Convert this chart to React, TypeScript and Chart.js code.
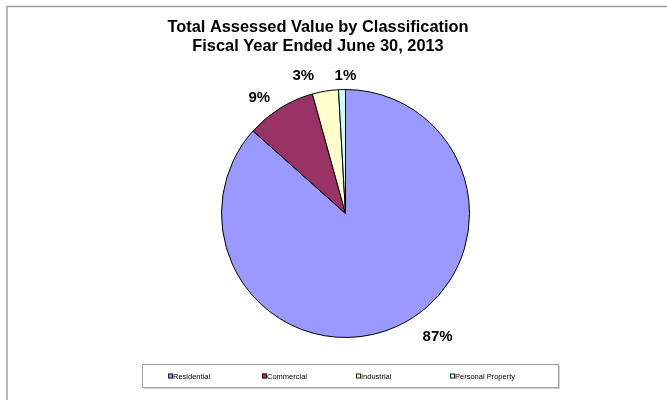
import React, { useEffect, useRef } from 'react';
import { Chart, registerables } from 'chart.js';

Chart.register(...registerables);

const categories = ['Residential', 'Commercial', 'Industrial', 'Personal Property'];
const shares = [86.6, 9.1, 3.4, 0.9];
const colors = ['#9999FF', '#993366', '#FFFFCC', '#CCFFFF'];
const titleLines = ['Total Assessed Value by Classification', 'Fiscal Year Ended June 30, 2013'];

// label placement tweaks (style only): angular shift in degrees, distance from centre in px
const labelShift = [-12.6, -4.9, -7.7, 1.6];
const labelDistance = [154, 144, 144, 138];

const decorPlugin = {
  id: 'decor',
  beforeDraw(chart: any) {
    const ctx = chart.ctx;
    ctx.save();
    ctx.fillStyle = '#ffffff';
    ctx.fillRect(0, 0, chart.width, chart.height);
    // outer frame
    ctx.strokeStyle = '#a0a0a0';
    ctx.lineWidth = 1.5;
    ctx.beginPath();
    ctx.moveTo(7, chart.height);
    ctx.lineTo(7, 6.5);
    ctx.lineTo(chart.width, 6.5);
    ctx.stroke();
    // title
    ctx.fillStyle = '#000000';
    ctx.font = 'bold 16.4px "Liberation Sans", Arial, sans-serif';
    ctx.textAlign = 'center';
    ctx.textBaseline = 'alphabetic';
    titleLines.forEach((t, i) => ctx.fillText(t, 318, 31.5 + i * 19));
    ctx.restore();
  },
  afterDraw(chart: any) {
    const ctx = chart.ctx;
    ctx.save();
    // legend box
    const bx = 142.5, by = 364.5, bw = 416, bh = 23;
    ctx.strokeStyle = '#d0d0d0';
    ctx.lineWidth = 1;
    ctx.beginPath();
    ctx.moveTo(bx + bw + 1, by + 1);
    ctx.lineTo(bx + bw + 1, by + bh + 1);
    ctx.lineTo(bx + 1, by + bh + 1);
    ctx.stroke();
    ctx.strokeStyle = '#a0a0a0';
    ctx.strokeRect(bx, by, bw, bh);
    const labels = chart.data.labels as string[];
    const bg = chart.data.datasets[0].backgroundColor as string[];
    ctx.font = '7.5px "Liberation Sans", Arial, sans-serif';
    ctx.textAlign = 'left';
    ctx.textBaseline = 'middle';
    const cy = by + bh / 2;
    labels.forEach((lab, i) => {
      const mx = 168 + i * 94;
      ctx.fillStyle = bg[i];
      ctx.fillRect(mx, cy - 2.5, 5, 5);
      ctx.strokeStyle = '#222';
      ctx.lineWidth = 1;
      ctx.strokeRect(mx + 0.5, cy - 2, 4, 4);
      ctx.fillStyle = '#000';
      ctx.fillText(lab, mx + 5, cy + 0.5);
    });
    ctx.restore();
  },
  afterDatasetsDraw(chart: any) {
    const ctx = chart.ctx;
    const meta = chart.getDatasetMeta(0);
    const data = chart.data.datasets[0].data as number[];
    const total = data.reduce((a, b) => a + b, 0);
    ctx.save();
    ctx.fillStyle = '#000';
    ctx.font = 'bold 15px "Liberation Sans", Arial, sans-serif';
    ctx.textAlign = 'center';
    ctx.textBaseline = 'middle';
    meta.data.forEach((arc: any, i: number) => {
      const p = arc.getProps(['x', 'y', 'startAngle', 'endAngle'], true);
      const a = (p.startAngle + p.endAngle) / 2 + (labelShift[i] * Math.PI) / 180;
      const d = labelDistance[i];
      const x = p.x + Math.cos(a) * d;
      const y = p.y + Math.sin(a) * d;
      ctx.fillText(Math.round((data[i] / total) * 100) + '%', x, y);
    });
    ctx.restore();
  },
};

export default function App() {
  const ref = useRef<HTMLCanvasElement>(null);
  useEffect(() => {
    if (!ref.current) return;
    const chart = new Chart(ref.current, {
      type: 'pie',
      data: {
        labels: categories,
        datasets: [
          {
            data: shares,
            backgroundColor: colors,
            borderColor: '#000000',
            borderWidth: 1,
          },
        ],
      },
      options: {
        animation: false,
        responsive: false,
        devicePixelRatio: 1,
        layout: { padding: { left: 221, right: 197, top: 89, bottom: 62 } },
        plugins: {
          legend: { display: false },
          title: { display: false },
          tooltip: { enabled: false },
        },
      },
      plugins: [decorPlugin],
    });
    return () => chart.destroy();
  }, []);
  return (
    <div style={{ position: 'absolute', left: 0, top: 0, width: 667, height: 400 }}>
      <canvas ref={ref} width={667} height={400} style={{ width: 667, height: 400, display: 'block' }} />
    </div>
  );
}
